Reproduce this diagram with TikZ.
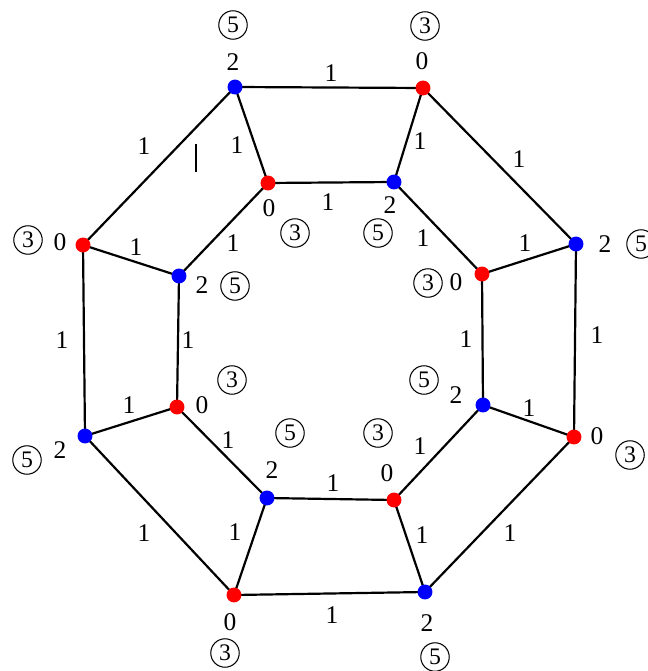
\documentclass[tikz,border=0pt]{standalone}
\usepackage{fontspec}
\setmainfont{Liberation Serif}

\tikzset{
  dot/.style={circle,minimum size=8.5pt,inner sep=0pt},
  ring/.style={circle,draw,line width=0.6pt,minimum size=16.2pt,inner sep=0pt,
    font=\fontsize{13.5}{15}\selectfont},
  lbl/.style={inner sep=0pt,font=\fontsize{14.5}{17}\selectfont}
}

\begin{document}
\begin{tikzpicture}[x=0.02cm,y=-0.02cm,line width=1.25pt]
\useasboundingbox[fill=white] (0,0) rectangle (647,671);
% ---- vertices: outer ring o1..o8, inner ring i1..i8 ----
\foreach \n/\x/\y/\c in {o1/235/87/blue,o2/423/88/red,o3/576/244/blue,o4/574/437/red,
    o5/425/592/blue,o6/234/595/red,o7/85/436/blue,o8/83/245/red,
    i1/268/183/red,i2/394/182/blue,i3/482/274/red,i4/483/405/blue,
    i5/394/500/red,i6/267/498/blue,i7/177/407/red,i8/179/276/blue}
  \node[dot] (\n) at (\x,\y) {};
% ---- edges with weight 1 ----
\foreach \a/\b/\lx/\ly [count=\i] in {o1/o2/331/73,o2/o3/519/159,o3/o4/597/335,
    o4/o5/510/533,o5/o6/332/615,o6/o7/144/533,o7/o8/62/340,o8/o1/144/146,
    o1/i1/237/145,o2/i2/420/141,o3/i3/525/243,o4/i4/529/408,
    o5/i5/422/535,o6/i6/235/532,o7/i7/129/405,o8/i8/136/247,
    i1/i2/328/202,i2/i3/423/238,i3/i4/466/339,i4/i5/420/446,
    i5/i6/333/483,i6/i7/228/440,i7/i8/188/340,i8/i1/233/243}{
  \draw (\a.center) -- (\b.center);
  \node[lbl] (e\i) at (\lx,\ly) {1};
}
% dots on top of the edges
\foreach \n/\c in {o1/blue,o2/red,o3/blue,o4/red,o5/blue,o6/red,o7/blue,o8/red,
    i1/red,i2/blue,i3/red,i4/blue,i5/red,i6/blue,i7/red,i8/blue}
  \fill[\c] (\n) circle (4.25pt);
% ---- vertex values and circled numbers ----
\foreach \n/\v/\vx/\vy/\k/\kx/\ky in {o1/2/233/62/5/233/25,o2/0/422/61/3/425/26,
    o3/2/605/244/5/641/244,o4/0/597/436/3/630/455,o5/2/427/623/5/435/657,
    o6/0/230/622/3/225/653,o7/2/60/450/5/27/460,o8/0/60/242/3/28/240,
    i1/0/269/208/3/295/233,i2/2/390/205/5/378/233,i3/0/456/282/3/428/283,
    i4/2/456/395/5/424/380,i5/0/387/473/3/378/433,i6/2/272/470/5/290/433,
    i7/0/202/405/3/232/380,i8/2/202/285/5/235/286}{
  \node[lbl] (\n-v) at (\vx,\vy) {\v};
  \node[ring] (\n-k) at (\kx,\ky) {\k};
}
% small stroke next to edge o8--o1
\draw[line width=0.8pt] (196,144) -- (196,172);
\end{tikzpicture}
\end{document}
